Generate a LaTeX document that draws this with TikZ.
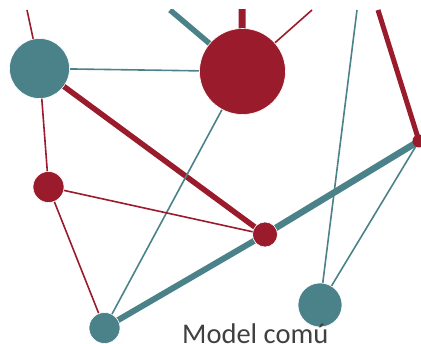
\documentclass[tikz,border=0pt]{standalone}
\usepackage{fontspec}
\setmainfont{Carlito}
\definecolor{teal1}{HTML}{4B8289}
\definecolor{red1}{HTML}{9A1B2C}
\definecolor{txt}{HTML}{404040}
\begin{document}
\begin{tikzpicture}[x=1pt,y=-1pt,
  tnode/.style={circle,fill=teal1,inner sep=0pt,draw=white,line width=0.6pt},
  rnode/.style={circle,fill=red1,inner sep=0pt,draw=white,line width=0.6pt},
  tthin/.style={draw=teal1,line width=1.6pt},
  tthick/.style={draw=teal1,line width=6.5pt},
  rthin/.style={draw=red1,line width=1.6pt},
  rthick/.style={draw=red1,line width=5.5pt}]
\useasboundingbox (0,0) rectangle (421,344);
\clip (0,10) rectangle (421,344);
% coordinates
\coordinate (a) at (39.5,68.5);
\coordinate (b) at (242.5,71.5);
\coordinate (c) at (48.5,187);
\coordinate (d) at (265,234.5);
\coordinate (e) at (104.5,328);
\coordinate (f) at (320,305);
\coordinate (g) at (419,141);
\coordinate (t1) at (27,10);
\coordinate (t2) at (170,10);
\coordinate (t3) at (242,0);
\coordinate (t4) at (312,10);
\coordinate (t5) at (357,10);
\coordinate (t6) at (378,10);
% edges
\draw[rthin] (a) -- (t1);
\draw[rthin] (a) -- (c);
\draw[tthick,line width=5.5pt] (b) -- (t2);
\draw[rthick,line width=7pt] (b) -- (t3);
\draw[rthin] (b) -- (t4);
\draw[tthin] (a) -- (b);
\draw[rthick] (a) -- (d);
\draw[tthin] (b) -- (e);
\draw[tthin] (f) -- (t5);
\draw[rthick,line width=5pt] (g) -- (t6);
\draw[rthin] (c) -- (d);
\draw[rthin] (c) -- (e);
\draw[tthick,line width=6pt] (e) -- (d);
\draw[tthick,line width=6.5pt] (d) -- (g);
\draw[tthin] (g) -- (f);
% nodes
\node[tnode,minimum size=60pt] (A) at (a) {};
\node[rnode,minimum size=86pt] (B) at (b) {};
\node[rnode,minimum size=31pt] (C) at (c) {};
\node[rnode,minimum size=25pt] (D) at (d) {};
\node[tnode,minimum size=31pt] (E) at (e) {};
\node[tnode,minimum size=44pt] (F) at (f) {};
\node[rnode,minimum size=13pt,draw=none] (G) at (g) {};
\node[anchor=base west,inner sep=0pt,text=txt,font=\fontsize{28.5}{30}\selectfont] (T) at (182,343.5) {Model comú};
\end{tikzpicture}
\end{document}
